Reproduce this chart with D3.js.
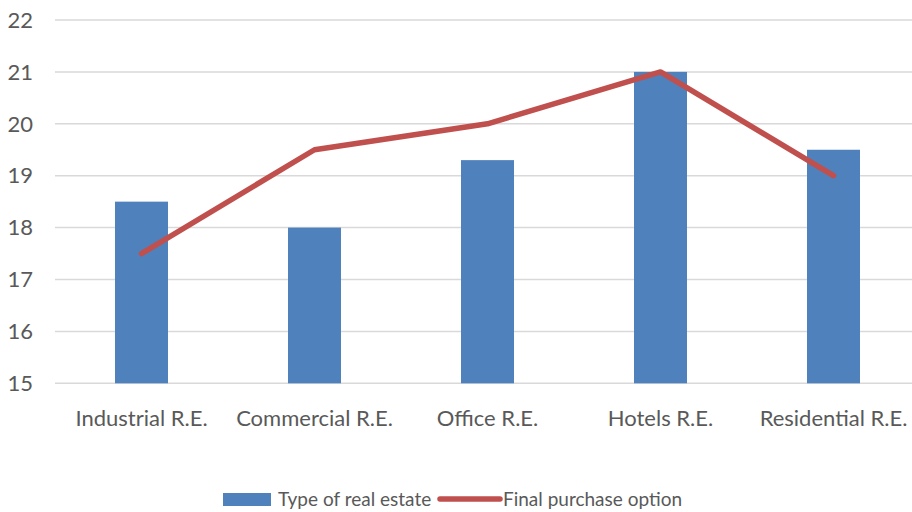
<!DOCTYPE html>
<html><head><meta charset="utf-8">
<script src="https://cdn.jsdelivr.net/npm/d3@7"></script>
<style>body{margin:0;background:#fff}svg{display:block}text{font-family:Lato,sans-serif;fill:#595959}</style>
</head><body><svg id="c" width="912" height="512"></svg>
<script>
const categories = ["Industrial R.E.","Commercial R.E.","Office R.E.","Hotels R.E.","Residential R.E."];
const barValues = [18.5, 18, 19.3, 21, 19.5];
const lineValues = [17.5, 19.5, 20, 21, 19];
const yTicks = [15,16,17,18,19,20,21,22];
const seriesNames = ["Type of real estate","Final purchase option"];

const FS = 22, LFS = 19;
const svg = d3.select("#c");
const x = d3.scaleBand().domain(categories).range([55, 920]).paddingInner(0.69).paddingOuter(0.345);
const y = d3.scaleLinear().domain([15,22]).range([383.3, 20]);

svg.append("g").selectAll("line").data(yTicks).join("line")
  .attr("x1",55).attr("x2",912).attr("y1",d=>y(d)).attr("y2",d=>y(d))
  .attr("stroke","#d9d9d9").attr("stroke-width",1.5);

svg.append("g").selectAll("text").data(yTicks).join("text")
  .attr("x",33).attr("y",d=>y(d)).attr("dy","0.35em").attr("text-anchor","end")
  .attr("font-size",FS).text(d=>d);

const bw = 53;
svg.append("g").selectAll("rect").data(barValues).join("rect")
  .attr("x",(d,i)=>x(categories[i])+x.bandwidth()/2-bw/2).attr("width",bw)
  .attr("y",d=>y(d)).attr("height",d=>y(15)-y(d)).attr("fill","#4F81BD");

const line = d3.line().x((d,i)=>x(categories[i])+x.bandwidth()/2).y(d=>y(d));
svg.append("path").datum(lineValues).attr("d",line).attr("fill","none")
  .attr("stroke","#C0504D").attr("stroke-width",5.5).attr("stroke-linecap","round").attr("stroke-linejoin","round");

svg.append("g").selectAll("text").data(categories).join("text")
  .attr("x",d=>x(d)+x.bandwidth()/2).attr("y",418).attr("dy","0.35em").attr("text-anchor","middle")
  .attr("font-size",FS).text(d=>d);

const lg = svg.append("g");
lg.append("rect").attr("x",223).attr("y",493).attr("width",48).attr("height",13).attr("fill","#4F81BD");
lg.append("text").attr("x",278).attr("y",499).attr("dy","0.35em").attr("font-size",LFS).text(seriesNames[0]);
lg.append("line").attr("x1",440).attr("x2",500).attr("y1",499).attr("y2",499).attr("stroke","#C0504D").attr("stroke-width",5.5).attr("stroke-linecap","round");
lg.append("text").attr("x",503).attr("y",499).attr("dy","0.35em").attr("font-size",LFS).text(seriesNames[1]);
</script></body></html>
